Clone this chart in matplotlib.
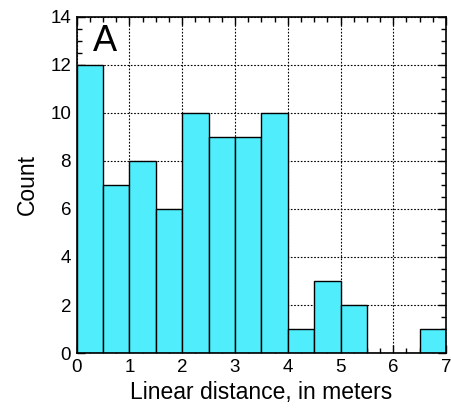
import matplotlib

matplotlib.use("Agg")
import matplotlib.pyplot as plt
import numpy as np
from matplotlib.ticker import MultipleLocator

plt.rcParams["font.family"] = ["Liberation Sans", "DejaVu Sans"]

bin_edges = np.arange(0, 7.01, 0.5)
counts = [12, 7, 8, 6, 10, 9, 9, 10, 1, 3, 2, 0, 0, 1]

fig = plt.figure(figsize=(4.51, 4.11), dpi=100)
ax = fig.add_axes([0.170, 0.141, 0.819, 0.818])

ax.bar(bin_edges[:-1], counts, width=0.5, align="edge",
       color="#50EEFC", edgecolor="black", linewidth=1.0, zorder=2)

ax.set_xlim(0, 7)
ax.set_ylim(0, 14)
ax.xaxis.set_major_locator(MultipleLocator(1))
ax.xaxis.set_minor_locator(MultipleLocator(0.25))
ax.yaxis.set_major_locator(MultipleLocator(2))
ax.yaxis.set_minor_locator(MultipleLocator(0.5))

ax.grid(True, which="major", linestyle=(0, (1.5, 1.5)), color="black", linewidth=0.8, zorder=1)
ax.set_axisbelow(True)

ax.tick_params(which="both", direction="in", top=True, right=True, labelsize=13.5, pad=4)
ax.tick_params(which="major", length=6, width=1)
ax.tick_params(which="minor", length=3.5, width=1)
for s in ax.spines.values():
    s.set_linewidth(1.2)
    s.set_zorder(3)

ax.set_xlabel("Linear distance, in meters", fontsize=16.5, labelpad=4)
ax.set_ylabel("Count", fontsize=16.5, labelpad=8)

ax.text(0.045, 0.98, "A", transform=ax.transAxes, fontsize=26, va="top", ha="left")

fig.savefig("out.png", dpi=100)
